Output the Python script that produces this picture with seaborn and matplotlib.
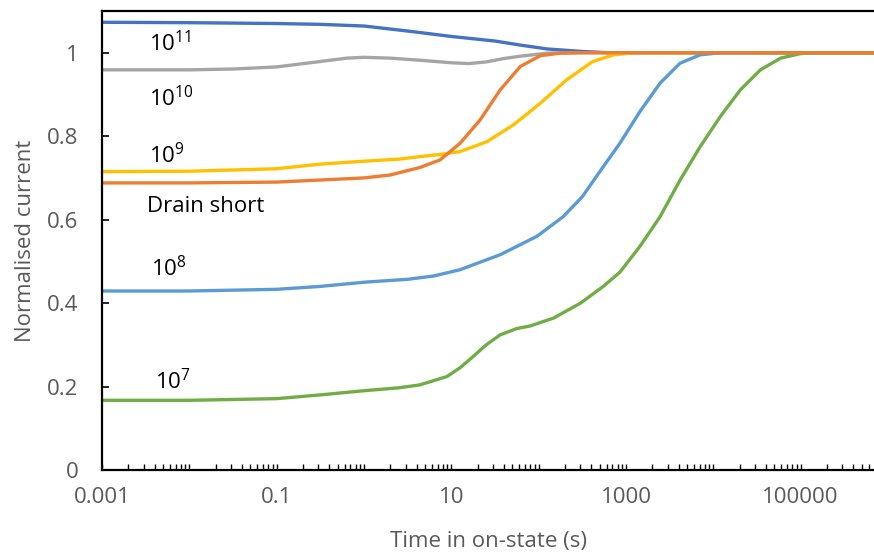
import numpy as np
import pandas as pd
import matplotlib
matplotlib.use("Agg")
import matplotlib.pyplot as plt
import matplotlib.ticker as mticker
import seaborn as sns

# ---------------- data (log10 of time in s, normalised current) ----------------
e11_logt = [-3, -2, -1, -0.5, 0, 0.5, 1, 1.5, 1.8, 2.1, 2.5, 2.8, 6]
e11_val = [1.073, 1.072, 1.070, 1.068, 1.064, 1.052, 1.039, 1.028, 1.018, 1.009, 1.003, 1.0, 1.0]

e10_logt = [-3, -2, -1.5, -1, -0.5, -0.2, 0, 0.3, 0.64, 1.0, 1.2, 1.4, 1.6, 1.8, 2.1, 2.4, 6]
e10_val = [0.959, 0.959, 0.961, 0.966, 0.979, 0.987, 0.989, 0.987, 0.982, 0.976, 0.974,
           0.978, 0.986, 0.992, 0.999, 1.0, 1.0]

e9_logt = [-3, -2, -1, -0.5, 0, 0.4, 0.64, 0.9, 1.1, 1.41, 1.71, 2.02, 2.32, 2.62, 2.86, 3.1, 6]
e9_val = [0.715, 0.716, 0.722, 0.733, 0.740, 0.745, 0.751, 0.757, 0.763, 0.787, 0.827, 0.879,
          0.935, 0.979, 0.995, 1.0, 1.0]

drain_logt = [-3, -2, -1, -0.5, 0, 0.3, 0.64, 0.87, 1.1, 1.33, 1.56, 1.79, 2.02, 2.25, 2.5, 6]
drain_val = [0.688, 0.688, 0.690, 0.695, 0.700, 0.707, 0.725, 0.743, 0.783, 0.839, 0.911,
             0.967, 0.993, 0.999, 1.0, 1.0]

e8_logt = [-3, -2, -1, -0.5, 0, 0.5, 0.8, 1.1, 1.56, 1.98, 2.28, 2.5, 2.7, 2.93, 3.16, 3.39,
           3.62, 3.85, 4.08, 6]
e8_val = [0.429, 0.429, 0.433, 0.440, 0.450, 0.457, 0.465, 0.480, 0.516, 0.560, 0.607, 0.655,
          0.715, 0.783, 0.859, 0.927, 0.975, 0.995, 1.0, 1.0]

e7_logt = [-3, -2, -1, -0.5, 0, 0.4, 0.64, 0.95, 1.1, 1.25, 1.4, 1.56, 1.75, 1.9, 2.17, 2.48,
           2.74, 2.93, 3.16, 3.39, 3.62, 3.85, 4.08, 4.31, 4.54, 4.77, 5.0, 5.2, 6]
e7_val = [0.167, 0.167, 0.171, 0.180, 0.190, 0.197, 0.204, 0.224, 0.245, 0.272, 0.300, 0.324,
          0.339, 0.345, 0.364, 0.400, 0.440, 0.474, 0.536, 0.607, 0.695, 0.775, 0.847, 0.911,
          0.959, 0.987, 0.998, 1.0, 1.0]

series_names = ["1e11", "1e10", "1e9", "1e8", "1e7", "Drain short"]
series_logt = [e11_logt, e10_logt, e9_logt, e8_logt, e7_logt, drain_logt]
series_vals = [e11_val, e10_val, e9_val, e8_val, e7_val, drain_val]
series_colors = ["#4472C4", "#A5A5A5", "#FFC000", "#5B9BD5", "#70AD47", "#ED7D31"]

labels_text = [r"$10^{11}$", r"$10^{10}$", r"$10^{9}$", "Drain short", r"$10^{8}$", r"$10^{7}$"]
labels_x = [0.00345, 0.00345, 0.00345, 0.00325, 0.00362, 0.00405]
labels_y = [1.003, 0.871, 0.735, 0.619, 0.464, 0.194]

xtick_vals = [0.001, 0.1, 10, 1000, 100000]
xtick_labels = ["0.001", "0.1", "10", "1000", "100000"]
ytick_vals = [0, 0.2, 0.4, 0.6, 0.8, 1.0]
ytick_labels = ["0", "0.2", "0.4", "0.6", "0.8", "1"]

# ---------------- figure ----------------
sns.set_theme(style="white")
plt.rcParams["font.family"] = ["Open Sans", "DejaVu Sans"]
plt.rcParams["mathtext.default"] = "regular"

fig = plt.figure(figsize=(8.74, 5.54), dpi=100)
ax = fig.add_axes([102 / 874, 84 / 554, 1 - 102 / 874, (470 - 11) / 554])

rows = []
for name, lt, vals in zip(series_names, series_logt, series_vals):
    for l, v in zip(lt, vals):
        rows.append({"series": name, "t": 10.0 ** l, "v": v})
df = pd.DataFrame(rows)

for name, col in zip(series_names, series_colors):
    sub = df[df["series"] == name]
    sns.lineplot(data=sub, x="t", y="v", ax=ax, color=col, lw=2.4,
                 estimator=None, sort=False, legend=False,
                 solid_joinstyle="round", solid_capstyle="round")

ax.set_xscale("log")
ax.set_xlim(0.001, 10 ** 5.84)
ax.set_ylim(0, 1.1)

ax.xaxis.set_major_locator(mticker.FixedLocator(xtick_vals))
ax.xaxis.set_major_formatter(mticker.FixedFormatter(xtick_labels))
ax.xaxis.set_minor_locator(mticker.LogLocator(base=10, subs=np.arange(1, 10), numticks=100))
ax.xaxis.set_minor_formatter(mticker.NullFormatter())
ax.set_yticks(ytick_vals)
ax.set_yticklabels(ytick_labels)

ax.tick_params(axis="x", which="both", direction="in", length=4.5, width=1.0,
               color="black", bottom=True, top=False, labelsize=16,
               labelcolor="#595959", pad=12)
ax.tick_params(axis="y", which="major", direction="in", length=5, width=1.2,
               color="black", left=True, labelsize=16, labelcolor="#595959", pad=17)

for s in ["left", "bottom", "top"]:
    ax.spines[s].set_visible(True)
    ax.spines[s].set_color("black")
    ax.spines[s].set_linewidth(1.6)
ax.spines["right"].set_visible(False)

ax.set_xlabel("Time in on-state (s)", fontsize=16, color="#595959", labelpad=17)
ax.set_ylabel("Normalised current", fontsize=16, color="#595959", labelpad=8)

for txt, x, y in zip(labels_text, labels_x, labels_y):
    ax.text(x, y, txt, fontsize=16, color="black", ha="left", va="baseline")

fig.savefig("out.png", dpi=100)
